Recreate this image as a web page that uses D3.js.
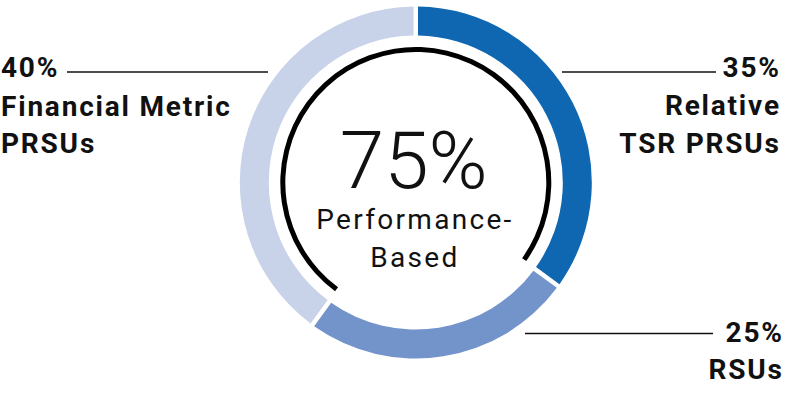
<!DOCTYPE html>
<html>
<head>
<meta charset="utf-8">
<script src="https://cdn.jsdelivr.net/npm/d3@7"></script>
<style>
  html, body { margin: 0; padding: 0; background: #fff; }
  svg { display: block; }
  text { font-family: Roboto, "Noto Sans", sans-serif; fill: #111; }
</style>
</head>
<body>
<svg id="chart" width="798" height="394"></svg>
<script>
// ---- data ----
const categories = ["Relative TSR PRSUs", "RSUs", "Financial Metric PRSUs"];
const values = [35, 25, 40];
const colors = ["#0f67b2", "#7294cb", "#c8d3ea"];
const pctLabels = ["35%", "25%", "40%"];
const nameLines = [["Relative", "TSR PRSUs"], ["RSUs"], ["Financial Metric", "PRSUs"]];
const performanceBased = [true, false, true];
const centerValue = "75%";
const centerLines = ["Performance-", "Based"];

// ---- layout ----
const W = 798, H = 394;
const cx = 415.8, cy = 182.5;
const outerR = 176, innerR = 147;
const LS = 1.8;      // label letter spacing
const CLS = 2.3;     // center letter spacing
const svg = d3.select("#chart");
const g = svg.append("g").attr("transform", `translate(${cx},${cy})`);

const pie = d3.pie().value(d => d).sort(null);
const arcs = pie(values);

const arc = d3.arc()
  .innerRadius(innerR)
  .outerRadius(outerR)
  .padRadius(outerR)
  .padAngle(4.4 / outerR);

g.selectAll("path.seg")
  .data(arcs)
  .enter().append("path")
  .attr("class", "seg")
  .attr("d", arc)
  .attr("fill", (d, i) => colors[i]);

// black inner arc spanning the performance-based portion
const perfStart = arcs[2].startAngle;              // Financial Metric start
const perfEnd = arcs[0].endAngle + 2 * Math.PI;     // wrap to end of Relative TSR
const blackArc = d3.arc()
  .innerRadius(130.5)
  .outerRadius(135.5)
  .startAngle(perfStart + 0.01)
  .endAngle(perfEnd - 0.01);
g.append("path").attr("d", blackArc()).attr("fill", "#000");

// center text
g.append("text")
  .attr("x", -2).attr("y", 188 - cy)
  .attr("text-anchor", "middle")
  .style("font-size", "80px")
  .style("font-weight", 300)
  .text(centerValue);
centerLines.forEach((t, i) => {
  g.append("text")
    .attr("x", -2 + CLS / 2).attr("y", 228.5 - cy + i * 38.5)
    .attr("text-anchor", "middle")
    .style("font-size", "28px")
    .style("font-weight", 400)
    .style("letter-spacing", CLS + "px")
    .text(t);
});

// ---- labels & leader lines ----
const lineColor = "#111";
function label(x, y, anchor, txt) {
  svg.append("text")
    .attr("x", anchor === "end" ? x + LS : x)
    .attr("y", y)
    .attr("text-anchor", anchor)
    .style("font-size", "28px").style("font-weight", 700)
    .style("letter-spacing", LS + "px")
    .text(txt);
}
// Financial Metric (left)
svg.append("line").attr("x1", 67).attr("x2", 268).attr("y1", 72).attr("y2", 72)
  .attr("stroke", lineColor).attr("stroke-width", 1.6);
label(1, 77, "start", pctLabels[2]);
nameLines[2].forEach((t, i) => label(1, 116 + i * 37, "start", t));

// Relative TSR (right top)
svg.append("line").attr("x1", 562).attr("x2", 716).attr("y1", 72).attr("y2", 72)
  .attr("stroke", lineColor).attr("stroke-width", 1.6);
label(779, 77, "end", pctLabels[0]);
nameLines[0].forEach((t, i) => label(779, 115 + i * 38, "end", t));

// RSUs (right bottom)
svg.append("line").attr("x1", 525).attr("x2", 713).attr("y1", 333.5).attr("y2", 333.5)
  .attr("stroke", lineColor).attr("stroke-width", 1.6);
label(782, 342, "end", pctLabels[1]);
nameLines[1].forEach((t, i) => label(782, 378.5 + i * 38, "end", t));
</script>
</body>
</html>
